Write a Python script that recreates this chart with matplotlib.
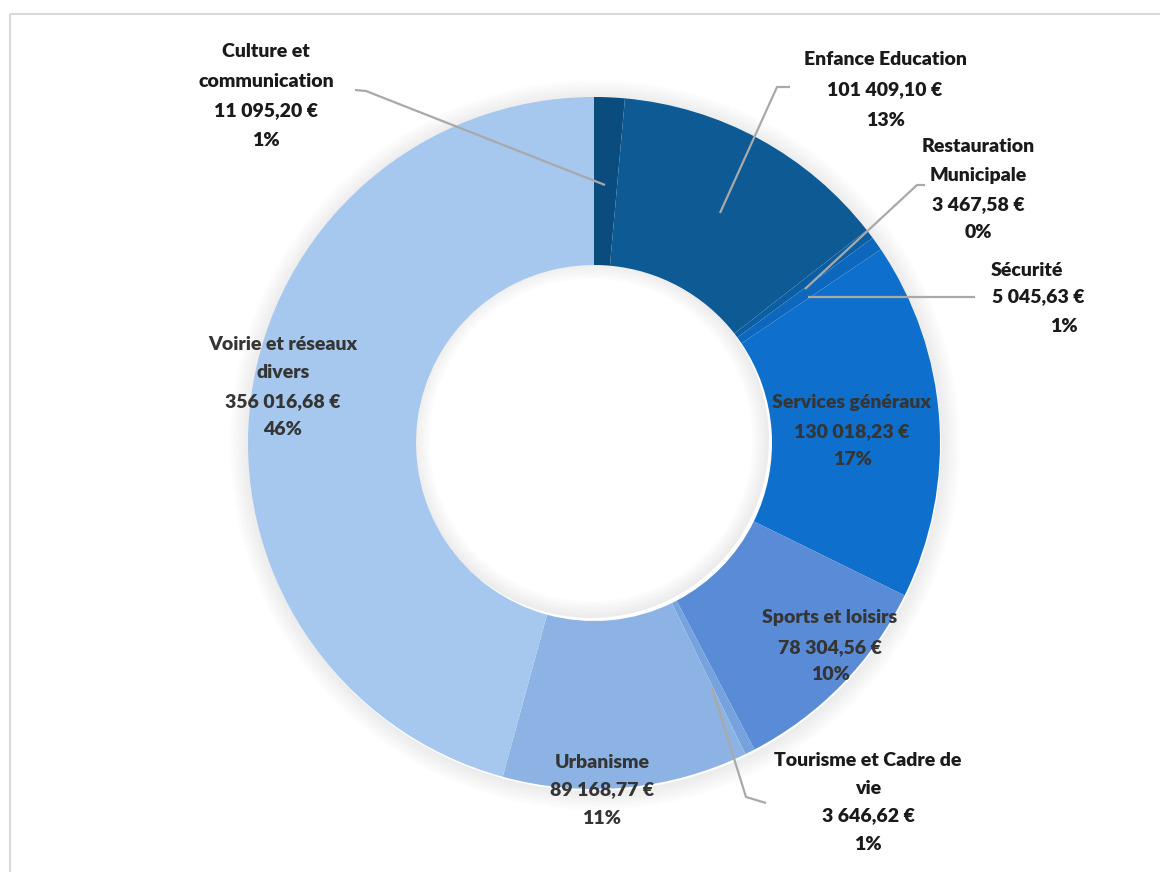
import matplotlib.pyplot as plt
from matplotlib.patches import Wedge

# data
categories = ['Culture et communication', 'Enfance Education', 'Restauration Municipale',
              'Sécurité', 'Services généraux', 'Sports et loisirs',
              'Tourisme et Cadre de vie', 'Urbanisme', 'Voirie et réseaux divers']
values = [11095.20, 101409.10, 3467.58, 5045.63, 130018.23, 78304.56, 3646.62, 89168.77, 356016.68]
amount_labels = ['11 095,20 €', '101 409,10 €', '3 467,58 €', '5 045,63 €', '130 018,23 €',
                 '78 304,56 €', '3 646,62 €', '89 168,77 €', '356 016,68 €']
pct_labels = ['1%', '13%', '0%', '1%', '17%', '10%', '1%', '11%', '46%']
colors = ['#0b4c7f', '#0d5a94', '#0c5ea3', '#0d68bd', '#0e6fcc', '#5a8bd7',
          '#76a2de', '#8db3e4', '#a6c8ee']

H = 872
def py(y):
    return H - y

fig = plt.figure(figsize=(11.6, 8.72), dpi=100)
ax = fig.add_axes([0, 0, 1, 1])

cx, cy = 594, py(443)
r_out, r_in = 346, 178

# soft shadow around the ring
for i in range(16):
    ax.add_patch(Wedge((cx + 1, cy - 2), r_out + 1.2 * (i + 1), 0, 360, width=1.3,
                       color='#8f8f8f', alpha=0.16 * (1 - i / 16), lw=0, zorder=1))
for i in range(14):
    ax.add_patch(Wedge((cx - 3, cy + 3), r_in - 1.2 * i, 0, 360, width=1.3,
                       color='#8f8f8f', alpha=0.16 * (1 - i / 14), lw=0, zorder=1))

ax.pie(values, colors=colors, startangle=90, counterclock=False,
       center=(cx, cy), radius=r_out,
       wedgeprops=dict(width=r_out - r_in, edgecolor='none', zorder=2))

ax.set_xlim(0, 1160)
ax.set_ylim(0, 872)
ax.set_aspect('equal')
ax.axis('off')

# frame (top and left edges are what shows)
ax.plot([10, 10, 1160], [py(872), py(14), py(14)], color='#d9d9d9', lw=1.5, zorder=0)

font = dict(family='Lato', fontweight='heavy', fontsize=14, ha='center', va='center')
out_c = '#1a1a1a'
in_c = '#353535'

def label(x, ys, lines, c):
    for yy, t in zip(ys, lines):
        ax.text(x, py(yy), t, color=c, zorder=5, **font)

def lab(i):
    return [amount_labels[i], pct_labels[i]]

lc = '#a9a9a9'
def line(pts):
    xs = [p[0] for p in pts]
    ys = [py(p[1]) for p in pts]
    ax.plot(xs, ys, color=lc, lw=1.6, zorder=4, solid_capstyle='butt')

# leader lines
line([(355, 90), (366, 91), (605, 185)])
line([(790, 87), (777, 87), (720, 213)])
line([(925, 185), (917, 185), (805, 289)])
line([(808, 297), (975, 297)])
line([(712, 688), (746, 797), (766, 803)])

# outside labels
label(266, [52, 82, 111, 140], ['Culture et', 'communication'] + lab(0), out_c)
label(885, [60, 90, 120], ['Enfance Education'] + lab(1), out_c)
label(978, [147, 175, 205, 233], ['Restauration', 'Municipale'] + lab(2), out_c)
label(1027, [270], ['Sécurité'], out_c)
label(1038, [297], [amount_labels[3]], out_c)
label(1064, [327], [pct_labels[3]], out_c)
label(868, [760, 788, 816, 845], ['Tourisme et Cadre de', 'vie'] + lab(6), out_c)

# inside labels
label(283, [345, 373, 402, 430], ['Voirie et réseaux', 'divers'] + lab(8), in_c)
label(852, [403, 432, 460], ['Services généraux'] + lab(4), in_c)
label(830, [617, 648, 675], ['Sports et loisirs'] + lab(5), in_c)
label(602, [762, 790, 818], ['Urbanisme'] + lab(7), in_c)

fig.savefig('out.png', dpi=100, facecolor='white')
